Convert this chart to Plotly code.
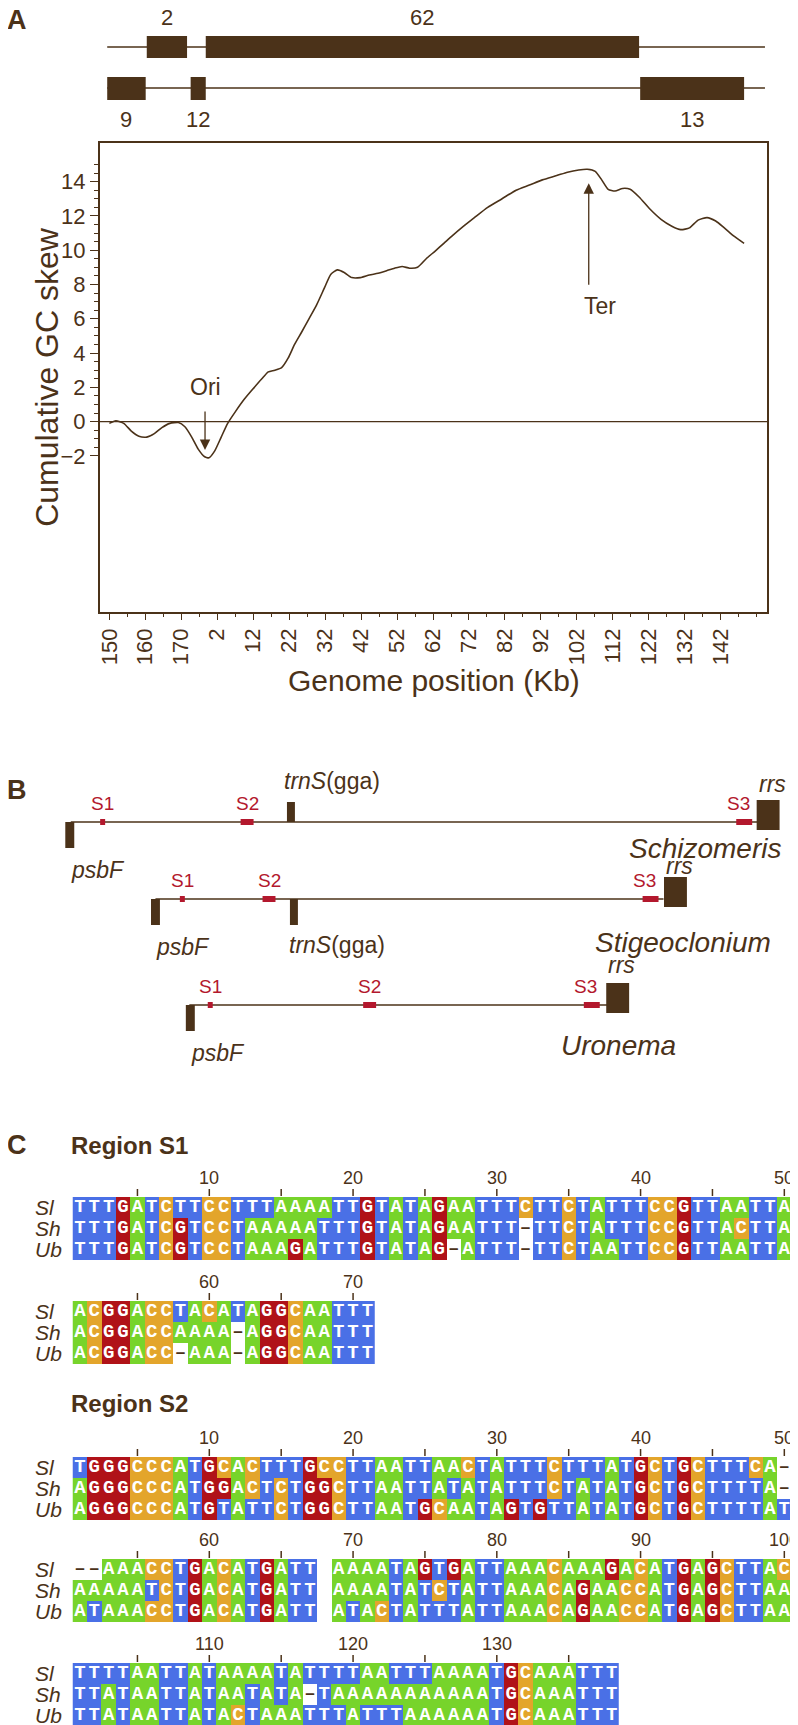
import plotly.graph_objects as go

PAGE_W, PAGE_H = 798, 1725
OFF = 8                      # default body margin of the html page
W, H = PAGE_W - OFF, PAGE_H - OFF
INK = '#4b3219'
SRED = '#b3182d'
SANS = 'Liberation Sans, Arial, Helvetica, sans-serif'

# ---------------- Panel A data ----------------
pos_kb = [150.0, 151.8, 154.0, 156.1, 158.2, 160.4, 162.5, 164.6, 166.8, 169.2, 171.0, 172.9,
          174.7, 176.5, 177.7, 179.3, 181.1, 182.9, 185.1, 187.5, 189.9, 192.4, 194.2, 196.0,
          197.9, 199.7, 201.5, 203.4, 205.5, 207.6, 209.8, 211.6, 213.4, 215.3, 217.4, 219.8,
          222.3, 224.7, 227.1, 229.3, 231.4, 233.5, 235.7, 238.1, 240.6, 243.0, 245.4, 248.5,
          251.5, 255.2, 259.2, 263.1, 266.8, 270.4, 274.4, 277.4, 280.5, 282.9, 285.1, 286.9,
          288.7, 290.6, 292.7, 294.8, 297.3, 300.3, 303.4, 306.4, 308.9, 311.3, 313.7, 316.2,
          318.6, 321.0, 323.8, 326.5]
gc_skew = [-0.1, 0.05, -0.1, -0.55, -0.85, -0.9, -0.7, -0.35, -0.1, -0.05, -0.3, -0.9,
           -1.6, -2.05, -2.1, -1.7, -0.9, -0.1, 0.6, 1.3, 1.9, 2.5, 2.9, 3.0,
           3.15, 3.7, 4.5, 5.2, 6.0, 6.8, 7.8, 8.6, 8.85, 8.7, 8.4, 8.4,
           8.55, 8.65, 8.8, 8.95, 9.05, 8.95, 9.0, 9.5, 9.95, 10.4, 10.85, 11.4,
           11.9, 12.5, 13.0, 13.5, 13.8, 14.1, 14.35, 14.55, 14.68, 14.72, 14.6, 14.1,
           13.55, 13.45, 13.6, 13.55, 13.1, 12.4, 11.8, 11.4, 11.2, 11.3, 11.75, 11.9,
           11.7, 11.3, 10.8, 10.4]
xtick_kb = list(range(150, 321, 10))
xtick_text = ['150', '160', '170', '2', '12', '22', '32', '42', '52', '62', '72', '82',
              '92', '102', '112', '122', '132', '142']
ytick_vals = [-2, 0, 2, 4, 6, 8, 10, 12, 14]
yminor_vals = [v / 2 for v in range(-4, 31)]

map_span = (149.4, 332.3)
genes_row1 = ['2', '62']
genes_row1_start = [160.4, 176.8]
genes_row1_end = [171.6, 297.3]
genes_row2 = ['9', '12', '13']
genes_row2_start = [149.4, 172.6, 297.6]
genes_row2_end = [160.1, 176.8, 326.5]
ori_kb, ori_val = 176.6, -1.65
ter_kb, ter_val = 283.3, 13.9

# ---------------- Panel B data (map units) ----------------
species = ['Schizomeris', 'Stigeoclonium', 'Uronema']
map_start = [68, 153, 187]
map_end = [763, 663, 607]
psbF_pos = [67, 153, 188]
s1_pos = [100, 180, 208]
s2_pos = [245, 267, 368]
s3_pos = [744, 650, 591]
trnS_pos = [289, 292, None]
rrs_pos = [768, 675, 617]

# ---------------- Panel C data ----------------
S1_blocks = [
    (1, ['TTTGATCTTCCTTTAAAATTGTATAGAATTTCTTCTATTTCCGTTAATTA',
         'TTTGATCGTCCTAAAAATTTGTATAGAATTT-TTCTATTTCCGTTACTTA',
         'TTTGATCGTCCTAAAGATTTGTATAG-ATTT-TTCTAATTCCGTTAATTA']),
    (51, ['ACGGACCTACATAGGCAATTT',
          'ACGGACCAAAA-AGGCAATTT',
          'ACGGACC-AAA-AGGCAATTT']),
]
S2_blocks = [
    (1, ['TGGGCCCATGCACTTTGCCTTAATTAACTATTTCTTTATGCTGCTTTCA-',
         'AGGGCCCATGGACTCTGGCTTAATTATATATTTCTATATGCTGCTTTTA-',
         'AGGGCCCATGTATTCTGGCTTAATGCAATAGTGTTATATGCTGCTTTTAT']),
    (51, ['--AAACCTGACATGATT AAAATAGTGATTAAACAAAGACATGAGCTTAC',
          'AAAAATCTGACATGATT AAAATATCTATTAAACAGAACCATGAGCTTAA',
          'ATAAACCTGACATGATT ATACTATTTATTAAACAGAACCATGAGCTTAA']),
    (101, ['TTTTAATTATAAAATATTTTAATTTAAAATGCAAATTT',
           'TTATAATTATAATATA-TAAAAAAAAAAATGCAAATTT',
           'TTATAATTATACTAAATTTATTTAAAAAATGCAAATTT']),
]
row_names = ['Sl', 'Sh', 'Ub']

COL_A, COL_C, COL_G, COL_T = '#77d42b', '#e3a52b', '#b01218', '#4a70e6'

# ---------------- layout constants (page pixels) ----------------
FRAME_L, FRAME_R, FRAME_T, FRAME_B = 97, 767, 143, 612
X2_RANGE = [147.3, 332.9]
Y2_RANGE = [-11.1, 16.25]
CELL_X0, CELL_W, ROW_H = 77.2, 14.43, 21.0
block_tops = [1197, 1301, 1457, 1559, 1663]


def dom_x(p):
    return (p - OFF) / W


def dom_y(p):
    return 1 - (p - OFF) / H


fig = go.Figure()
shapes, annots = [], []


def ann(x, y, text, size, color=INK, xanchor='center', yanchor='middle', xref='x', yref='y', **kw):
    annots.append(dict(x=x, y=y, xref=xref, yref=yref, text=text, showarrow=False,
                       xanchor=xanchor, yanchor=yanchor,
                       font=dict(family=SANS, size=size, color=color), **kw))


# ---------- Panel A ----------
fig.add_trace(go.Scatter(x=pos_kb, y=gc_skew, mode='lines', xaxis='x2', yaxis='y2',
                         line=dict(color=INK, width=1.6, shape='spline', smoothing=0.6),
                         hoverinfo='skip', showlegend=False))
shapes.append(dict(type='line', xref='x2 domain', yref='y2', x0=0, x1=1, y0=0, y1=0,
                   line=dict(color=INK, width=1.3)))
for yline, names, st, en, box, labely in [
        (47, genes_row1, genes_row1_start, genes_row1_end, (36, 58), 17),
        (88, genes_row2, genes_row2_start, genes_row2_end, (77, 100), 119)]:
    shapes.append(dict(type='line', xref='x2', yref='y', x0=map_span[0], x1=map_span[1],
                       y0=yline, y1=yline, line=dict(color=INK, width=1.5)))
    for n, a, b in zip(names, st, en):
        shapes.append(dict(type='rect', xref='x2', yref='y', x0=a, x1=b, y0=box[0], y1=box[1],
                           fillcolor=INK, line=dict(width=0)))
        annots.append(dict(x=(a + b) / 2, y=labely, xref='x2', yref='y', text=n, showarrow=False,
                           font=dict(family=SANS, size=22, color=INK)))
annots.append(dict(x=ori_kb, y=ori_val, xref='x2', yref='y2', ax=0, ay=-40, text='',
                   showarrow=True, arrowhead=2, arrowsize=1.6, arrowwidth=1.3, arrowcolor=INK))
annots.append(dict(x=ori_kb, y=387, xref='x2', yref='y', text='Ori', showarrow=False,
                   font=dict(family=SANS, size=23, color=INK)))
annots.append(dict(x=ter_kb, y=ter_val, xref='x2', yref='y2', ax=0, ay=103, text='',
                   showarrow=True, arrowhead=2, arrowsize=1.6, arrowwidth=1.3, arrowcolor=INK))
annots.append(dict(x=ter_kb + 3, y=306, xref='x2', yref='y', text='Ter', showarrow=False,
                   font=dict(family=SANS, size=23, color=INK)))
ann(44, 377, 'Cumulative GC skew', 32, textangle=-90)
ann(433, 680, 'Genome position (Kb)', 30)
ann(14, 20, '<b>A</b>', 27)

# ---------- Panel B ----------
ann(14, 790, '<b>B</b>', 27)
map_y = [822, 899, 1005]
trnS_side = ['above', 'below', None]
sp_xy = [(705, 848), (683, 942), (618, 1045)]
rrs_lab_dy = [38, 33, 40]
trn_lab = [(330, 781), (335, 945), None]
for i, sp in enumerate(species):
    y = map_y[i]
    shapes.append(dict(type='line', xref='x', yref='y', x0=map_start[i], x1=map_end[i], y0=y, y1=y,
                       line=dict(color=INK, width=1.5)))
    shapes.append(dict(type='rect', xref='x', yref='y', x0=psbF_pos[i] - 4.5, x1=psbF_pos[i] + 4.5,
                       y0=y, y1=y + 26, fillcolor=INK, line=dict(width=0)))
    ann(psbF_pos[i] + 28, y + 48, '<i>psbF</i>', 23)
    for lab, p, w in [('S1', s1_pos[i], 5), ('S2', s2_pos[i], 13), ('S3', s3_pos[i], 16)]:
        shapes.append(dict(type='rect', xref='x', yref='y', x0=p - w / 2, x1=p + w / 2,
                           y0=y - 3, y1=y + 3, fillcolor=SRED, line=dict(width=0)))
        ann(p - (6 if lab == 'S3' else 0), y - 19, lab, 19, color=SRED)
    if trnS_pos[i] is not None:
        if trnS_side[i] == 'above':
            y0, y1 = y - 20, y
        else:
            y0, y1 = y, y + 26
        shapes.append(dict(type='rect', xref='x', yref='y', x0=trnS_pos[i] - 4, x1=trnS_pos[i] + 4,
                           y0=y0, y1=y1, fillcolor=INK, line=dict(width=0)))
        ann(trn_lab[i][0], trn_lab[i][1], '<i>trnS</i>(gga)', 23)
    shapes.append(dict(type='rect', xref='x', yref='y', x0=rrs_pos[i] - 11.5, x1=rrs_pos[i] + 11.5,
                       y0=y - 22, y1=y + 8, fillcolor=INK, line=dict(width=0)))
    ann(rrs_pos[i] + 4, y - rrs_lab_dy[i], '<i>rrs</i>', 23)
    ann(sp_xy[i][0], sp_xy[i][1], '<i>%s</i>' % sp, 28)

# ---------- Panel C ----------
ann(14, 1145, '<b>C</b>', 27)
ann(66, 1145, '<b>Region S1</b>', 24, xanchor='left')
ann(66, 1403, '<b>Region S2</b>', 24, xanchor='left')

code = {'A': 1, 'C': 2, 'G': 3, 'T': 4}
cscale = [[0, 'white'], [0.125, 'white'], [0.125, COL_A], [0.375, COL_A], [0.375, COL_C],
          [0.625, COL_C], [0.625, COL_G], [0.875, COL_G], [0.875, COL_T], [1, COL_T]]
all_blocks = S1_blocks + S2_blocks
for (start, rows), top in zip(all_blocks, block_tops):
    ncol = max(len(r) for r in rows)
    ycent = [top + ROW_H * (i + 0.5) for i in range(3)]
    z = [[code.get(ch, 0) for ch in r] for r in rows]
    fig.add_trace(go.Heatmap(z=z, x=list(range(ncol)), y=ycent, xaxis='x3', yaxis='y',
                             colorscale=cscale, zmin=0, zmax=4, showscale=False,
                             hoverinfo='skip'))
    lx, ly, lt, dx, dy = [], [], [], [], []
    for ri, r in enumerate(rows):
        for ci, ch in enumerate(r):
            if ch in code:
                lx.append(ci); ly.append(ycent[ri]); lt.append(ch)
            elif ch == '-':
                dx.append(ci); dy.append(ycent[ri])
    fig.add_trace(go.Scatter(x=lx, y=ly, text=lt, mode='text', xaxis='x3', yaxis='y',
                             textfont=dict(family='Liberation Mono, Courier New, monospace',
                                           size=19, color='white', weight='bold'),
                             hoverinfo='skip', showlegend=False))
    if dx:
        fig.add_trace(go.Scatter(x=dx, y=dy, text=['–'] * len(dx), mode='text', xaxis='x3', yaxis='y',
                                 textfont=dict(family=SANS, size=17, color=INK, weight='bold'),
                                 hoverinfo='skip', showlegend=False))
    for ci in range(ncol):
        n = start + ci
        if n % 5 == 0:
            shapes.append(dict(type='line', xref='x3', yref='y', x0=ci, x1=ci, y0=top - 8, y1=top - 1,
                               line=dict(color=INK, width=1.5)))
        if n % 10 == 0:
            annots.append(dict(x=ci, y=top - 19, xref='x3', yref='y', text=str(n), showarrow=False,
                               font=dict(family=SANS, size=18, color=INK)))
    for ri, nm in enumerate(row_names):
        ann(30, ycent[ri], '<i>%s</i>' % nm, 21, xanchor='left')

# ---------- layout ----------
fig.update_layout(
    width=W, height=H, margin=dict(l=0, r=0, t=0, b=0),
    paper_bgcolor='white', plot_bgcolor='rgba(0,0,0,0)', showlegend=False,
    xaxis=dict(domain=[0, 1], range=[OFF, PAGE_W], visible=False, fixedrange=True),
    yaxis=dict(domain=[0, 1], range=[PAGE_H, OFF], visible=False, fixedrange=True),
    xaxis3=dict(domain=[0, 1], range=[(OFF - CELL_X0) / CELL_W, (PAGE_W - CELL_X0) / CELL_W],
                visible=False, anchor='y', overlaying='x'),
    xaxis2=dict(domain=[dom_x(FRAME_L), dom_x(FRAME_R)], range=X2_RANGE, anchor='y2',
                tickmode='array', tickvals=xtick_kb, ticktext=xtick_text, tickangle=-90,
                ticks='outside', ticklen=6, tickwidth=1.3, tickcolor=INK,
                showline=True, mirror=True, linecolor=INK, linewidth=1.5,
                showgrid=False, zeroline=False,
                tickfont=dict(family=SANS, size=22, color=INK),
                minor=dict(ticks='outside', ticklen=3, tickcolor=INK, dtick=5, tick0=150)),
    yaxis2=dict(domain=[dom_y(FRAME_B), dom_y(FRAME_T)], range=Y2_RANGE, anchor='x2',
                tickmode='array', tickvals=ytick_vals,
                ticks='outside', ticklen=8, tickwidth=1.3, tickcolor=INK,
                showline=True, mirror=True, linecolor=INK, linewidth=1.5,
                showgrid=False, zeroline=False,
                tickfont=dict(family=SANS, size=22, color=INK),
                minor=dict(ticks='outside', ticklen=4, tickcolor=INK, tickvals=yminor_vals)),
    shapes=shapes, annotations=annots,
)
fig.write_html('out.html')
